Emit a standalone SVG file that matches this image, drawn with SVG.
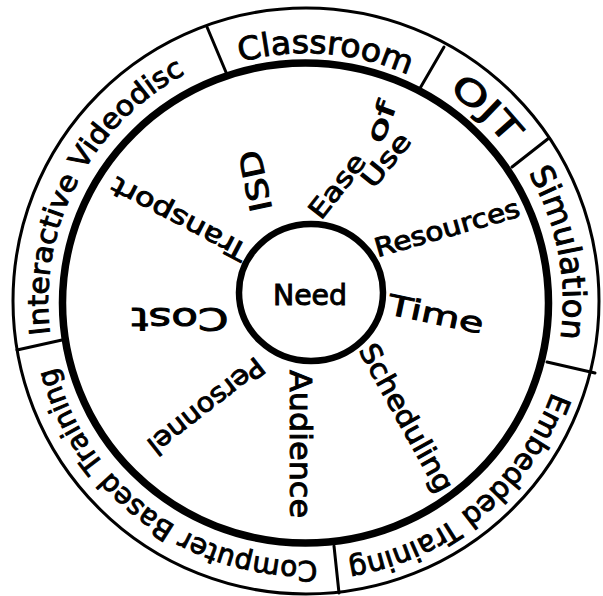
<svg xmlns="http://www.w3.org/2000/svg" width="603" height="596" viewBox="0 0 603 596">
<style>
.ln{fill:none;stroke:#000;stroke-linecap:round}
.t{font-family:"DejaVu Sans","Liberation Sans",sans-serif;fill:#000;stroke:#000;stroke-width:0.95}
</style>
<defs>
<path id="pClass" d="M100.8,161.0 A249,249 0 0 1 530.7,194.8"/>
<path id="pOJT" d="M231.7,59.1 A254,254 0 0 1 553.5,359.1"/>
<path id="pSim" d="M389.7,59.0 A257,257 0 0 1 474.6,496.0"/>
<path id="pEmb" d="M564.4,258.8 A262,262 0 0 1 214.2,547.4"/>
<path id="pCBT" d="M409.3,539.5 A259,259 0 0 1 48.7,272.7"/>
<path id="pIV" d="M88.4,440.6 A258,258 0 0 1 294.8,44.3"/>
</defs>
<rect width="603" height="596" fill="#fff"/>
<g id="rings">
<circle class="ln" cx="306" cy="301" r="293" stroke-width="3"/>
<ellipse class="ln" cx="305.5" cy="303" rx="243" ry="240" stroke-width="7.5"/>
</g>
<g id="connectors" class="ln" stroke-width="3">
<line x1="207" y1="27" x2="228" y2="77"/>
<line x1="444" y1="47" x2="419" y2="90"/>
<line x1="549" y1="138" x2="512" y2="167"/>
<line x1="547" y1="362" x2="595" y2="373"/>
<line x1="334" y1="546" x2="339" y2="593"/>
<line x1="17" y1="350" x2="62" y2="340"/>
</g>
<g id="need">
<ellipse class="ln" cx="311" cy="292.5" rx="72" ry="68.5" stroke-width="6.5"/>
<text class="t" x="310" y="305" font-size="28" text-anchor="middle" textLength="74" lengthAdjust="spacingAndGlyphs">Need</text>
</g>
<g id="classroom"><text class="t" font-size="32"><textPath href="#pClass" startOffset="50%" text-anchor="middle" textLength="172" lengthAdjust="spacingAndGlyphs">Classroom</textPath></text></g>
<g id="ojt"><text class="t" font-size="34"><textPath href="#pOJT" startOffset="50%" text-anchor="middle" textLength="80" lengthAdjust="spacingAndGlyphs">OJT</textPath></text></g>
<g id="simulation"><text class="t" font-size="32"><textPath href="#pSim" startOffset="50%" text-anchor="middle" textLength="172" lengthAdjust="spacingAndGlyphs">Simulation</textPath></text></g>
<g id="embedded"><text class="t" font-size="29"><textPath href="#pEmb" startOffset="50%" text-anchor="middle" textLength="278" lengthAdjust="spacingAndGlyphs">Embedded Training</textPath></text></g>
<g id="cbt"><text class="t" font-size="28"><textPath href="#pCBT" startOffset="50%" text-anchor="middle" textLength="352" lengthAdjust="spacingAndGlyphs">Computer Based Training</textPath></text></g>
<g id="videodisc"><text class="t" font-size="28"><textPath href="#pIV" startOffset="50%" text-anchor="middle" textLength="312" lengthAdjust="spacingAndGlyphs">Interactive Videodisc</textPath></text></g>
<g id="isd"><text class="t" transform="translate(256,181) rotate(-102)" y="10" font-size="30" text-anchor="middle" textLength="62" lengthAdjust="spacingAndGlyphs">ISD</text></g>
<g id="ease-of-use">
<text class="t" transform="translate(337,186) rotate(-52)" y="9" font-size="26" text-anchor="middle" textLength="75" lengthAdjust="spacingAndGlyphs">Ease</text>
<text class="t" transform="translate(381,122) rotate(-70)" y="9" font-size="26" text-anchor="middle" textLength="42" lengthAdjust="spacingAndGlyphs">of</text>
<text class="t" transform="translate(386,160) rotate(-51)" y="9" font-size="26" text-anchor="middle" textLength="62" lengthAdjust="spacingAndGlyphs">Use</text>
</g>
<g id="resources"><text class="t" transform="translate(447,228) rotate(-16)" y="9" font-size="26" text-anchor="middle" textLength="150" lengthAdjust="spacingAndGlyphs">Resources</text></g>
<g id="time"><text class="t" transform="translate(436,314) rotate(12)" y="10" font-size="28" text-anchor="middle" textLength="97" lengthAdjust="spacingAndGlyphs">Time</text></g>
<g id="scheduling"><text class="t" transform="translate(406,418) rotate(61)" y="9" font-size="28" text-anchor="middle" textLength="165" lengthAdjust="spacingAndGlyphs">Scheduling</text></g>
<g id="audience"><text class="t" transform="translate(300,444) rotate(90)" y="10" font-size="30" text-anchor="middle" textLength="148" lengthAdjust="spacingAndGlyphs">Audience</text></g>
<g id="personnel"><text class="t" transform="translate(206,406) rotate(142)" y="9" font-size="27" text-anchor="middle" textLength="140" lengthAdjust="spacingAndGlyphs">Personnel</text></g>
<g id="cost"><text class="t" transform="translate(180,318) rotate(180)" y="10" font-size="32" text-anchor="middle" textLength="97" lengthAdjust="spacingAndGlyphs">Cost</text></g>
<g id="transport"><text class="t" transform="translate(179,219) rotate(207.7)" y="9" font-size="26" text-anchor="middle" textLength="150" lengthAdjust="spacingAndGlyphs">Transport</text></g>
</svg>
